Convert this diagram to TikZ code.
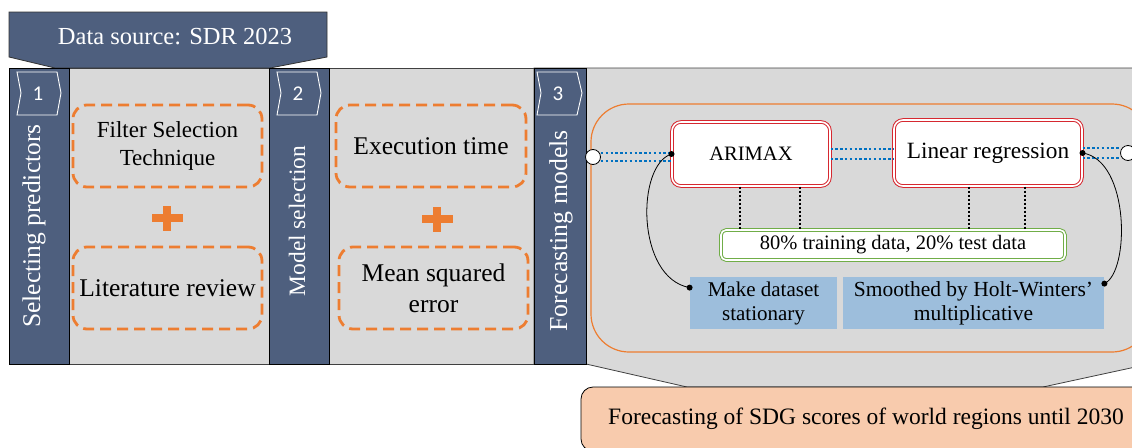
\documentclass[tikz,border=0pt]{standalone}
\usepackage{fontspec}
\setmainfont{Liberation Serif}
\newfontfamily\numfont{Carlito}
\usetikzlibrary{positioning}

\definecolor{barblue}{RGB}{78,95,126}
\definecolor{panelgray}{RGB}{217,217,217}
\definecolor{dashorange}{RGB}{237,125,49}
\definecolor{boxred}{RGB}{214,40,48}
\definecolor{boxgreen}{RGB}{112,173,71}
\definecolor{linkblue}{RGB}{0,112,192}
\definecolor{prepblue}{RGB}{157,190,220}
\definecolor{outpeach}{RGB}{248,203,173}

\newcommand{\fsz}[2]{\fontsize{#1}{#2}\selectfont}

\begin{document}
\begin{tikzpicture}[x=1pt, y=-1pt, line width = 0.8pt,
  bar/.style={fill=barblue, draw=black},
  chev/.style={draw=white, line width=0.9pt},
  steptext/.style={text=white, rotate=90, inner sep=0pt},
  crit/.style={draw=dashorange, line width=2.8pt, dash pattern=on 11pt off 6pt,
    rounded corners=14pt, align=center, inner sep=0pt, minimum height=82pt},
  plussign/.style={draw=dashorange, line width=8pt},
  model/.style={draw=boxred, double=white, double distance=1.6pt, line width=1pt,
    fill=white, rounded corners=9pt, inner sep=0pt},
  splitbox/.style={draw=boxgreen, double=white, double distance=1.6pt, line width=1pt,
    fill=white, rounded corners=5pt, inner sep=0pt},
  prep/.style={fill=prepblue, align=center, inner sep=0pt},
  link/.style={linkblue, line width=2.4pt, dash pattern=on 2.4pt off 2.4pt},
  dotline/.style={line width=2.2pt, dash pattern=on 2pt off 2pt},
  endpt/.style={circle, draw=black, fill=white, minimum size=15pt, inner sep=0pt}]

\useasboundingbox (0,0) rectangle (1132,447);

% gray frame of the three steps
\draw[draw=black!75, fill=panelgray] (9,68) rectangle (534,364);
\draw[draw=black!75, fill=panelgray] (534,68) -- (1140,68) -- (1140,366) -- (1043,387)
  -- (687,387) -- (586,364) -- (534,364) -- cycle;

% output
\draw (866,419) node[fill=outpeach, draw=black, rounded corners=12pt,
  minimum width=570pt, minimum height=64pt, font=\fsz{23.5pt}{28pt}] (result)
  {Forecasting of SDG scores of world regions until 2030};

% data source
\draw[fill=barblue, draw=black!80] (9,12) -- (327,12) -- (327,57) -- (270,68)
  -- (55,68) -- (9,57) -- cycle;
\draw (175,37) node[text=white, font=\fsz{24.5pt}{29pt}] (source) {Data source: SDR 2023};

% step bars
\draw[bar] (9,68) rectangle (69,364);
\draw[bar] (269,68) rectangle (329,364);
\draw[bar] (534,68) rectangle (586,364);

\draw[chev] (17,72) -- (57,72) -- (61,93) -- (57,115) -- (17,115) -- (21,93) -- cycle;
\draw[chev] (277,72) -- (317,72) -- (321,93) -- (317,115) -- (277,115) -- (281,93) -- cycle;
\draw[chev] (537,72) -- (577,72) -- (582,93) -- (577,115) -- (537,115) -- (541,93) -- cycle;
\draw (38,94) node[text=white, font=\numfont\fsz{21pt}{25pt}] (n1) {1};
\draw (298,94) node[text=white, font=\numfont\fsz{21pt}{25pt}] (n2) {2};
\draw (558,94) node[text=white, font=\numfont\fsz{21pt}{25pt}] (n3) {3};

\draw (34,226) node[steptext, font=\fsz{25.5pt}{30pt}] (sel) {Selecting predictors};
\draw (297,221) node[steptext, font=\fsz{23.5pt}{28pt}] (msel) {Model selection};
\draw (561,231) node[steptext, font=\fsz{25.8pt}{30pt}] (fmod) {Forecasting models};

% step 1
\draw (167.5,146) node[crit, minimum width=189pt, font=\fsz{23pt}{28pt}] (filt) {Filter Selection\\Technique};
\draw (167.5,288) node[crit, minimum width=189pt, font=\fsz{25.5pt}{30pt}] (lit) {Literature review};
\draw[plussign] (152,218) -- (183,218);
\draw[plussign] (167,206) -- (167,231);

% step 2
\draw (431,146) node[crit, minimum width=190pt, font=\fsz{25.5pt}{30pt}] (exec) {Execution time};
\draw (433.5,288) node[crit, minimum width=189pt, font=\fsz{25.5pt}{31pt}] (mse) {Mean squared\\error};
\draw[plussign] (422,219) -- (453,219);
\draw[plussign] (437,207) -- (437,232);

% step 3
\draw[dashorange, line width=1.2pt, rounded corners=38pt] (591,104) rectangle (1150,352);

\draw (593,157) node[endpt] (cl) {};
\draw (1128,153) node[endpt] (cr) {};
\draw (751,154) node[model, minimum width=158pt, minimum height=64pt, font=\fsz{20.5pt}{24pt}] (arimax) {ARIMAX};
\draw (988,153) node[model, minimum width=188pt, minimum height=66pt, font=\fsz{23.3pt}{28pt}] (lr) {Linear regression};

\draw[link] ([yshift=4pt]cl.east) -- ([yshift=4pt]cl.east -| arimax.west);
\draw[link] ([yshift=-4pt]cl.east) -- ([yshift=-4pt]cl.east -| arimax.west);
\draw[link] ([yshift=5pt]arimax.east) -- ([yshift=5pt]arimax.east -| lr.west);
\draw[link] ([yshift=-5pt]arimax.east) -- ([yshift=-5pt]arimax.east -| lr.west);
\draw[link] ([yshift=5pt]lr.east) -- ([yshift=5pt]lr.east -| cr.west);
\draw[link] ([yshift=-5pt]lr.east) -- ([yshift=-5pt]lr.east -| cr.west);

\draw (893,245) node[splitbox, minimum width=344pt, minimum height=30pt, font=\fsz{20.5pt}{24pt}] (train) {80\% training data, 20\% test data};

\draw[dotline] ([xshift=-11pt]arimax.south) -- ([xshift=-11pt]arimax.south |- train.north);
\draw[dotline] ([xshift=49pt]arimax.south) -- ([xshift=49pt]arimax.south |- train.north);
\draw[dotline] ([xshift=-19pt]lr.south) -- ([xshift=-19pt]lr.south |- train.north);
\draw[dotline] ([xshift=37pt]lr.south) -- ([xshift=37pt]lr.south |- train.north);

\draw (763.5,303) node[prep, minimum width=147pt, minimum height=52pt, font=\fsz{21pt}{24pt}] (make) {Make dataset\\stationary};
\draw (973.5,303) node[prep, minimum width=261pt, minimum height=52pt, font=\fsz{21.5pt}{24pt}] (smooth) {Smoothed by Holt-Winters'\\multiplicative};

\draw (arimax.west) .. controls (636,165) and (636,278) .. ([yshift=-11pt]make.north west);
\draw (lr.east) .. controls (1130,160) and (1130,272) .. ([yshift=-7pt]smooth.north east);
\fill (arimax.west) circle[radius=3pt];
\fill (lr.east) circle[radius=3pt];
\fill ([yshift=-11pt]make.north west) circle[radius=3pt];
\fill ([yshift=-7pt]smooth.north east) circle[radius=3pt];

\end{tikzpicture}
\end{document}
